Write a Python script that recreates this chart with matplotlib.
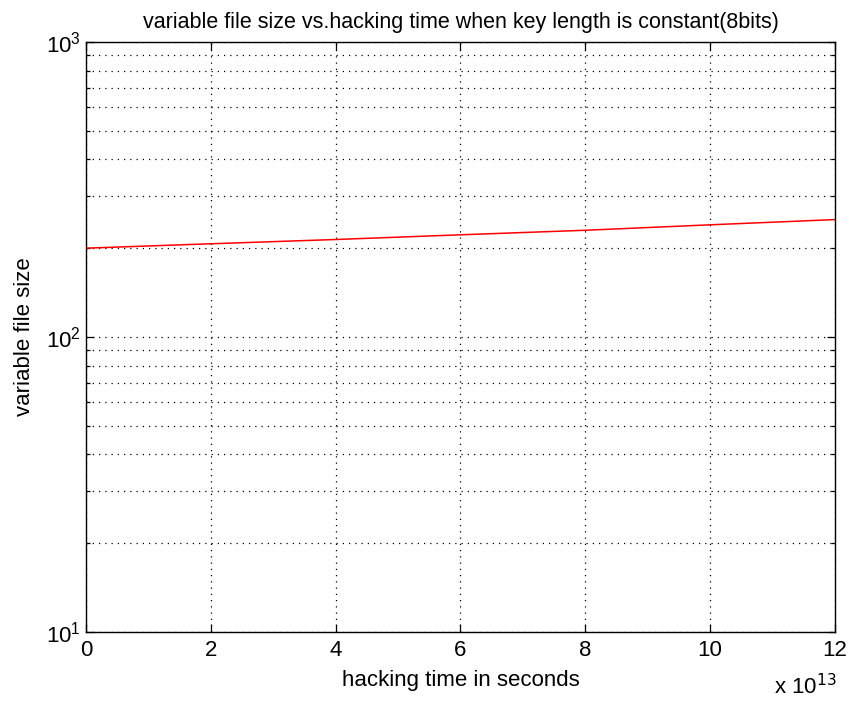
import numpy as np
import matplotlib.pyplot as plt
from matplotlib.ticker import FuncFormatter, LogLocator

plt.rcParams['font.family'] = ['Liberation Sans', 'DejaVu Sans']

# hacking time (seconds) vs file size
hack_time = [0, 2e13, 4e13, 6e13, 8e13, 10e13, 12e13]
file_size = [200, 207, 214, 222, 230, 240, 250]

fig = plt.figure(figsize=(8.49, 7.03), dpi=100)
ax = fig.add_axes([0.1013, 0.101, 0.8822, 0.8393])

ax.semilogy(hack_time, file_size, color='red', linewidth=1.1)

ax.set_xlim(0, 12e13)
ax.set_ylim(10, 1000)
ax.set_xticks(np.arange(0, 13, 2) * 1e13)
ax.xaxis.set_major_formatter(FuncFormatter(lambda v, p: f"{v / 1e13:g}"))
ax.yaxis.set_major_locator(LogLocator(base=10))
ax.yaxis.set_minor_locator(LogLocator(base=10, subs=np.arange(2, 10)))

dots = (0, (1, 4))
ax.grid(True, which='major', color='black', linestyle=dots, linewidth=0.9)
ax.grid(True, which='minor', axis='y', color='black', linestyle=dots, linewidth=0.9)

ax.tick_params(which='both', direction='in', top=True, right=True,
               labelsize=16, color='black')
ax.tick_params(which='major', length=6, width=0.9)
ax.tick_params(which='minor', length=3, width=0.9)
ax.tick_params(axis='x', pad=6)
for s in ax.spines.values():
    s.set_linewidth(1.0)
    s.set_color('black')

ax.set_title('variable file size vs.hacking time when key length is constant(8bits)',
             fontsize=15.5, pad=10)
ax.set_xlabel('hacking time in seconds', fontsize=16, labelpad=6)
ax.set_ylabel('variable file size', fontsize=16, labelpad=8)
fig.text(0.912, 0.012, r'x 10$^{13}$', fontsize=16)

plt.savefig('out.png', dpi=100)
